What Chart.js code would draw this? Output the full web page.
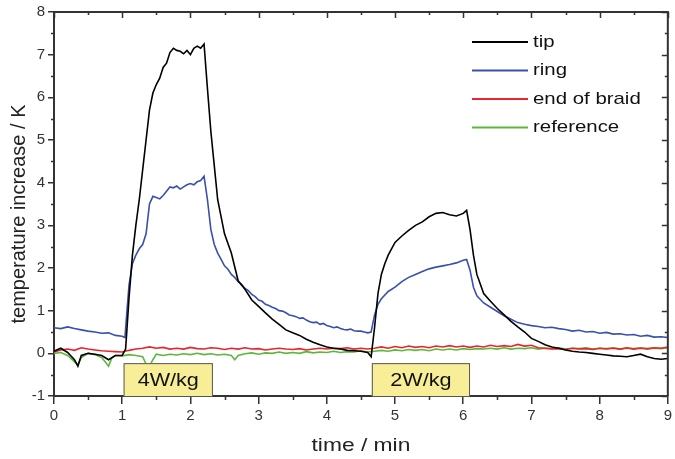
<!DOCTYPE html>
<html><head><meta charset="utf-8">
<script src="https://cdn.jsdelivr.net/npm/chart.js@4/dist/chart.umd.min.js"></script>
<style>html,body{margin:0;padding:0;background:#fff}</style>
</head><body>
<canvas id="c" width="675" height="459" style="width:675px;height:459px;display:block"></canvas>
<script>
// ---- data (time in min, temperature increase in K) ----
const tipTime = [0,0.1,0.2,0.3,0.35,0.4,0.5,0.6,0.7,0.8,0.9,1.0,1.05,1.1,1.15,1.2,1.25,1.3,1.35,1.4,1.45,1.5,1.55,1.6,1.65,1.7,1.75,1.8,1.85,1.9,1.95,2.0,2.05,2.1,2.15,2.2,2.25,2.3,2.35,2.4,2.5,2.6,2.7,2.8,2.9,3.0,3.1,3.2,3.3,3.4,3.5,3.6,3.7,3.8,3.9,4.0,4.1,4.2,4.3,4.4,4.5,4.6,4.65,4.7,4.75,4.8,4.85,4.9,5.0,5.1,5.2,5.3,5.4,5.5,5.6,5.7,5.8,5.9,6.0,6.05,6.1,6.15,6.2,6.3,6.4,6.5,6.6,6.7,6.8,6.9,7.0,7.1,7.2,7.3,7.4,7.5,7.6,7.7,7.8,7.9,8.0,8.1,8.2,8.3,8.4,8.5,8.6,8.7,8.8,8.9,9.0];
const tipTemp = [0.05,0.12,0.02,-0.15,-0.3,-0.05,0.0,-0.02,-0.05,-0.15,-0.05,-0.05,0.1,1.3,2.3,3.0,3.6,4.3,5.0,5.7,6.1,6.3,6.45,6.7,6.8,7.05,7.15,7.1,7.08,7.02,7.1,7.0,7.15,7.2,7.15,7.25,6.2,5.2,4.4,3.6,2.8,2.35,1.7,1.5,1.25,1.1,0.95,0.8,0.68,0.55,0.48,0.42,0.33,0.26,0.2,0.15,0.12,0.1,0.07,0.06,0.05,0.02,-0.08,0.6,1.4,1.85,2.1,2.3,2.6,2.75,2.88,3.0,3.08,3.2,3.28,3.3,3.25,3.22,3.28,3.35,2.9,2.3,1.85,1.4,1.22,1.05,0.9,0.75,0.62,0.5,0.35,0.28,0.2,0.15,0.12,0.08,0.05,0.03,0.02,0.0,-0.02,-0.04,-0.06,-0.07,-0.08,-0.05,-0.02,-0.08,-0.12,-0.14,-0.12];

const ringTime = [0,0.1,0.2,0.3,0.4,0.5,0.6,0.7,0.8,0.9,1.0,1.04,1.07,1.1,1.15,1.2,1.25,1.3,1.35,1.4,1.45,1.5,1.55,1.6,1.65,1.7,1.75,1.8,1.85,1.9,1.95,2.0,2.05,2.1,2.15,2.2,2.25,2.3,2.35,2.4,2.45,2.5,2.55,2.6,2.65,2.7,2.75,2.8,2.85,2.9,2.95,3.0,3.05,3.1,3.15,3.2,3.25,3.3,3.35,3.4,3.45,3.5,3.55,3.6,3.65,3.7,3.75,3.8,3.85,3.9,3.95,4.0,4.05,4.1,4.15,4.2,4.25,4.3,4.35,4.4,4.45,4.5,4.55,4.6,4.65,4.7,4.75,4.8,4.9,5.0,5.1,5.2,5.3,5.4,5.5,5.6,5.7,5.8,5.9,6.0,6.05,6.1,6.15,6.2,6.3,6.4,6.5,6.6,6.7,6.8,6.9,7.0,7.1,7.2,7.3,7.4,7.5,7.6,7.7,7.8,7.9,8.0,8.1,8.2,8.3,8.4,8.5,8.6,8.7,8.8,8.9,9.0];
const ringTemp = [0.6,0.58,0.62,0.58,0.55,0.52,0.5,0.47,0.48,0.42,0.4,0.37,1.0,1.6,2.1,2.3,2.45,2.55,2.8,3.5,3.68,3.65,3.62,3.7,3.8,3.9,3.88,3.92,3.85,3.9,3.95,3.98,3.95,4.02,4.05,4.15,3.6,2.9,2.55,2.35,2.2,2.05,1.97,1.85,1.78,1.68,1.62,1.52,1.47,1.38,1.33,1.25,1.22,1.15,1.12,1.08,1.05,1.0,0.99,0.95,0.9,0.88,0.86,0.82,0.83,0.78,0.74,0.72,0.73,0.68,0.7,0.65,0.63,0.6,0.62,0.58,0.56,0.55,0.57,0.53,0.52,0.52,0.5,0.48,0.5,0.9,1.15,1.28,1.45,1.55,1.68,1.78,1.85,1.92,1.98,2.02,2.05,2.08,2.12,2.18,2.2,1.95,1.55,1.35,1.18,1.08,0.98,0.88,0.8,0.72,0.68,0.65,0.63,0.6,0.61,0.58,0.56,0.52,0.54,0.5,0.51,0.47,0.49,0.45,0.46,0.43,0.44,0.4,0.42,0.38,0.39,0.37];

const braidTime = [0,0.1,0.2,0.3,0.4,0.5,0.6,0.7,0.8,0.9,1.0,1.1,1.2,1.3,1.4,1.5,1.6,1.7,1.8,1.9,2.0,2.1,2.2,2.3,2.4,2.5,2.6,2.7,2.8,2.9,3.0,3.1,3.2,3.3,3.4,3.5,3.6,3.7,3.8,3.9,4.0,4.1,4.2,4.3,4.4,4.5,4.6,4.7,4.8,4.9,5.0,5.1,5.2,5.3,5.4,5.5,5.6,5.7,5.8,5.9,6.0,6.1,6.2,6.3,6.4,6.5,6.6,6.7,6.8,6.9,7.0,7.1,7.2,7.3,7.4,7.5,7.6,7.7,7.8,7.9,8.0,8.1,8.2,8.3,8.4,8.5,8.6,8.7,8.8,8.9,9.0];
const braidTemp = [0.03,0.08,0.1,0.07,0.13,0.1,0.08,0.06,0.05,0.04,0.03,0.07,0.1,0.12,0.15,0.12,0.14,0.1,0.12,0.1,0.14,0.11,0.1,0.13,0.12,0.09,0.12,0.1,0.13,0.1,0.11,0.08,0.1,0.12,0.1,0.09,0.11,0.08,0.1,0.12,0.1,0.12,0.11,0.13,0.1,0.12,0.1,0.12,0.15,0.12,0.16,0.13,0.17,0.14,0.16,0.13,0.17,0.15,0.18,0.15,0.17,0.14,0.17,0.15,0.19,0.16,0.18,0.16,0.21,0.17,0.19,0.13,0.12,0.1,0.11,0.09,0.12,0.1,0.11,0.09,0.12,0.1,0.12,0.1,0.13,0.1,0.12,0.11,0.13,0.12,0.15];

const refTime = [0,0.1,0.2,0.3,0.35,0.4,0.5,0.6,0.7,0.75,0.8,0.85,0.9,1.0,1.1,1.2,1.3,1.35,1.4,1.45,1.5,1.6,1.7,1.8,1.9,2.0,2.1,2.2,2.3,2.4,2.5,2.6,2.65,2.7,2.8,2.9,3.0,3.1,3.2,3.3,3.4,3.5,3.6,3.7,3.8,3.9,4.0,4.1,4.2,4.3,4.4,4.5,4.6,4.7,4.8,4.9,5.0,5.1,5.2,5.3,5.4,5.5,5.6,5.7,5.8,5.9,6.0,6.1,6.2,6.3,6.4,6.5,6.6,6.7,6.8,6.9,7.0,7.1,7.2,7.3,7.4,7.5,7.6,7.7,7.8,7.9,8.0,8.1,8.2,8.3,8.4,8.5,8.6,8.7,8.8,8.9,9.0];
const refTemp = [0.0,0.02,-0.05,-0.2,-0.27,-0.1,0.0,-0.03,-0.1,-0.2,-0.3,-0.1,-0.05,-0.06,-0.03,-0.05,-0.08,-0.25,-0.3,-0.15,-0.02,-0.05,-0.02,-0.04,-0.01,-0.03,0.0,-0.03,-0.01,-0.04,-0.02,-0.05,-0.15,-0.05,-0.01,0.01,-0.02,0.01,0.0,0.03,0.0,0.02,0.0,0.04,0.01,0.03,0.02,0.05,0.02,0.04,0.03,0.06,0.03,0.05,0.07,0.05,0.08,0.06,0.09,0.07,0.09,0.06,0.1,0.08,0.1,0.08,0.11,0.09,0.11,0.1,0.12,0.1,0.13,0.1,0.12,0.11,0.13,0.1,0.12,0.11,0.13,0.1,0.12,0.11,0.13,0.1,0.12,0.11,0.13,0.1,0.12,0.11,0.13,0.1,0.12,0.11,0.13];

const seriesNames = ['tip','ring','end of braid','reference'];
const seriesColors = ['#000000','#3b4fae','#e8262c','#5cb83c'];

const pulseLabels = ['4W/kg','2W/kg'];
const pulseStart = [1.02, 4.66];
const pulseEnd = [2.33, 6.1];
const pulseTop = -0.23;

const xMin = 0, xMax = 9, yMin = -1, yMax = 8;
const xTitle = 'time / min';
const yTitle = 'temperature increase / K';

// ---- build ----
function pts(t, v){ return t.map((x,i)=>({x:x, y:v[i]})); }
const seriesData = [pts(tipTime,tipTemp), pts(ringTime,ringTemp), pts(braidTime,braidTemp), pts(refTime,refTemp)];

const FONT = "'Liberation Sans', Arial, sans-serif";
const AX = '#333333';

const framePlugin = {
  id: 'frame',
  afterDatasetsDraw(chart){
    const ctx = chart.ctx, xs = chart.scales.x, ys = chart.scales.y, a = chart.chartArea;
    ctx.save();
    // pulse boxes
    for (let i=0;i<pulseLabels.length;i++){
      const x0 = xs.getPixelForValue(pulseStart[i]), x1 = xs.getPixelForValue(pulseEnd[i]);
      const y0 = ys.getPixelForValue(pulseTop), y1 = ys.getPixelForValue(yMin);
      ctx.fillStyle = '#f8ee98';
      ctx.fillRect(x0, y0, x1-x0, y1-y0);
      ctx.strokeStyle = '#555';
      ctx.lineWidth = 1;
      ctx.strokeRect(x0+0.5, y0+0.5, x1-x0-1, y1-y0);
      ctx.fillStyle = '#111';
      ctx.textAlign = 'center'; ctx.textBaseline = 'middle';
      ctx.save();
      ctx.translate((x0+x1)/2, (y0+y1)/2+1);
      ctx.scale(1.2,1);
      ctx.font = '18px ' + FONT;
      ctx.fillText(pulseLabels[i], 0, 0);
      ctx.restore();
    }
    // frame top/right
    ctx.strokeStyle = AX; ctx.lineWidth = 2;
    ctx.beginPath();
    ctx.moveTo(a.left, a.top); ctx.lineTo(a.right, a.top); ctx.lineTo(a.right, a.bottom);
    ctx.stroke();
    ctx.lineWidth = 1.5;
    ctx.beginPath();
    for (let v = xMin; v <= xMax + 1e-9; v += 0.5){
      const px = Math.round(xs.getPixelForValue(v)) + 0.5;
      const major = Math.abs(v - Math.round(v)) < 1e-9;
      if (!major){ ctx.moveTo(px, a.bottom); ctx.lineTo(px, a.bottom + 4); }
      ctx.moveTo(px, a.top); ctx.lineTo(px, a.top + (major ? 6 : 3));
    }
    for (let v = yMin; v <= yMax + 1e-9; v += 0.5){
      const py = Math.round(ys.getPixelForValue(v)) + 0.5;
      const major = Math.abs(v - Math.round(v)) < 1e-9;
      if (!major){ ctx.moveTo(a.left, py); ctx.lineTo(a.left - 3, py); }
      ctx.moveTo(a.right, py); ctx.lineTo(a.right - (major ? 6 : 3), py);
    }
    ctx.stroke();
    // axis titles
    ctx.fillStyle = '#222';
    ctx.textAlign = 'center'; ctx.textBaseline = 'middle';
    ctx.save();
    ctx.translate((a.left + a.right)/2, 446);
    ctx.scale(1.2, 1);
    ctx.font = '19px ' + FONT;
    ctx.fillText(xTitle, 0, 0);
    ctx.restore();
    ctx.save();
    ctx.translate(19, 214);
    ctx.rotate(-Math.PI/2);
    ctx.font = '20px ' + FONT;
    ctx.fillText(yTitle, 0, 0);
    ctx.restore();
    // legend
    const ds = chart.data.datasets;
    for (let i=0;i<ds.length;i++){
      const y = 42 + i*28.5;
      ctx.strokeStyle = ds[i].borderColor; ctx.lineWidth = 1.8;
      ctx.beginPath(); ctx.moveTo(472, y); ctx.lineTo(528, y); ctx.stroke();
      ctx.save();
      ctx.translate(533, y);
      ctx.scale(1.2, 1);
      ctx.fillStyle = '#111'; ctx.textAlign = 'left'; ctx.textBaseline = 'middle';
      ctx.font = '17px ' + FONT;
      ctx.fillText(ds[i].label, 0, 0);
      ctx.restore();
    }
    ctx.restore();
  }
};

new Chart(document.getElementById('c'), {
  type: 'line',
  data: {
    datasets: seriesData.map((d,i)=>({
      label: seriesNames[i], data: d, borderColor: seriesColors[i],
      borderWidth: 1.6, pointRadius: 0, tension: 0, fill: false
    }))
  },
  options: {
    responsive: false, animation: false, devicePixelRatio: 1,
    layout: { padding: { top: 11, right: 7, left: 0, bottom: 0 } },
    plugins: { legend: { display: false }, tooltip: { enabled: false } },
    scales: {
      x: {
        type: 'linear', min: xMin, max: xMax,
        afterFit(s){ s.height = 63; },
        ticks: { stepSize: 1, autoSkip: false, maxRotation: 0, padding: 3, color: AX, font: { size: 15, family: FONT } },
        grid: { display: true, drawOnChartArea: false, color: AX, tickLength: 8, lineWidth: 1.5 },
        border: { display: true, color: AX, width: 2 },
        title: { display: false }
      },
      y: {
        min: yMin, max: yMax,
        afterFit(s){ s.width = 54; },
        ticks: { stepSize: 1, autoSkip: false, padding: 3, color: AX, font: { size: 15, family: FONT } },
        grid: { display: true, drawOnChartArea: false, color: AX, tickLength: 6, lineWidth: 1.5 },
        border: { display: true, color: AX, width: 2 },
        title: { display: false }
      }
    }
  },
  plugins: [framePlugin]
});
</script>
</body></html>
